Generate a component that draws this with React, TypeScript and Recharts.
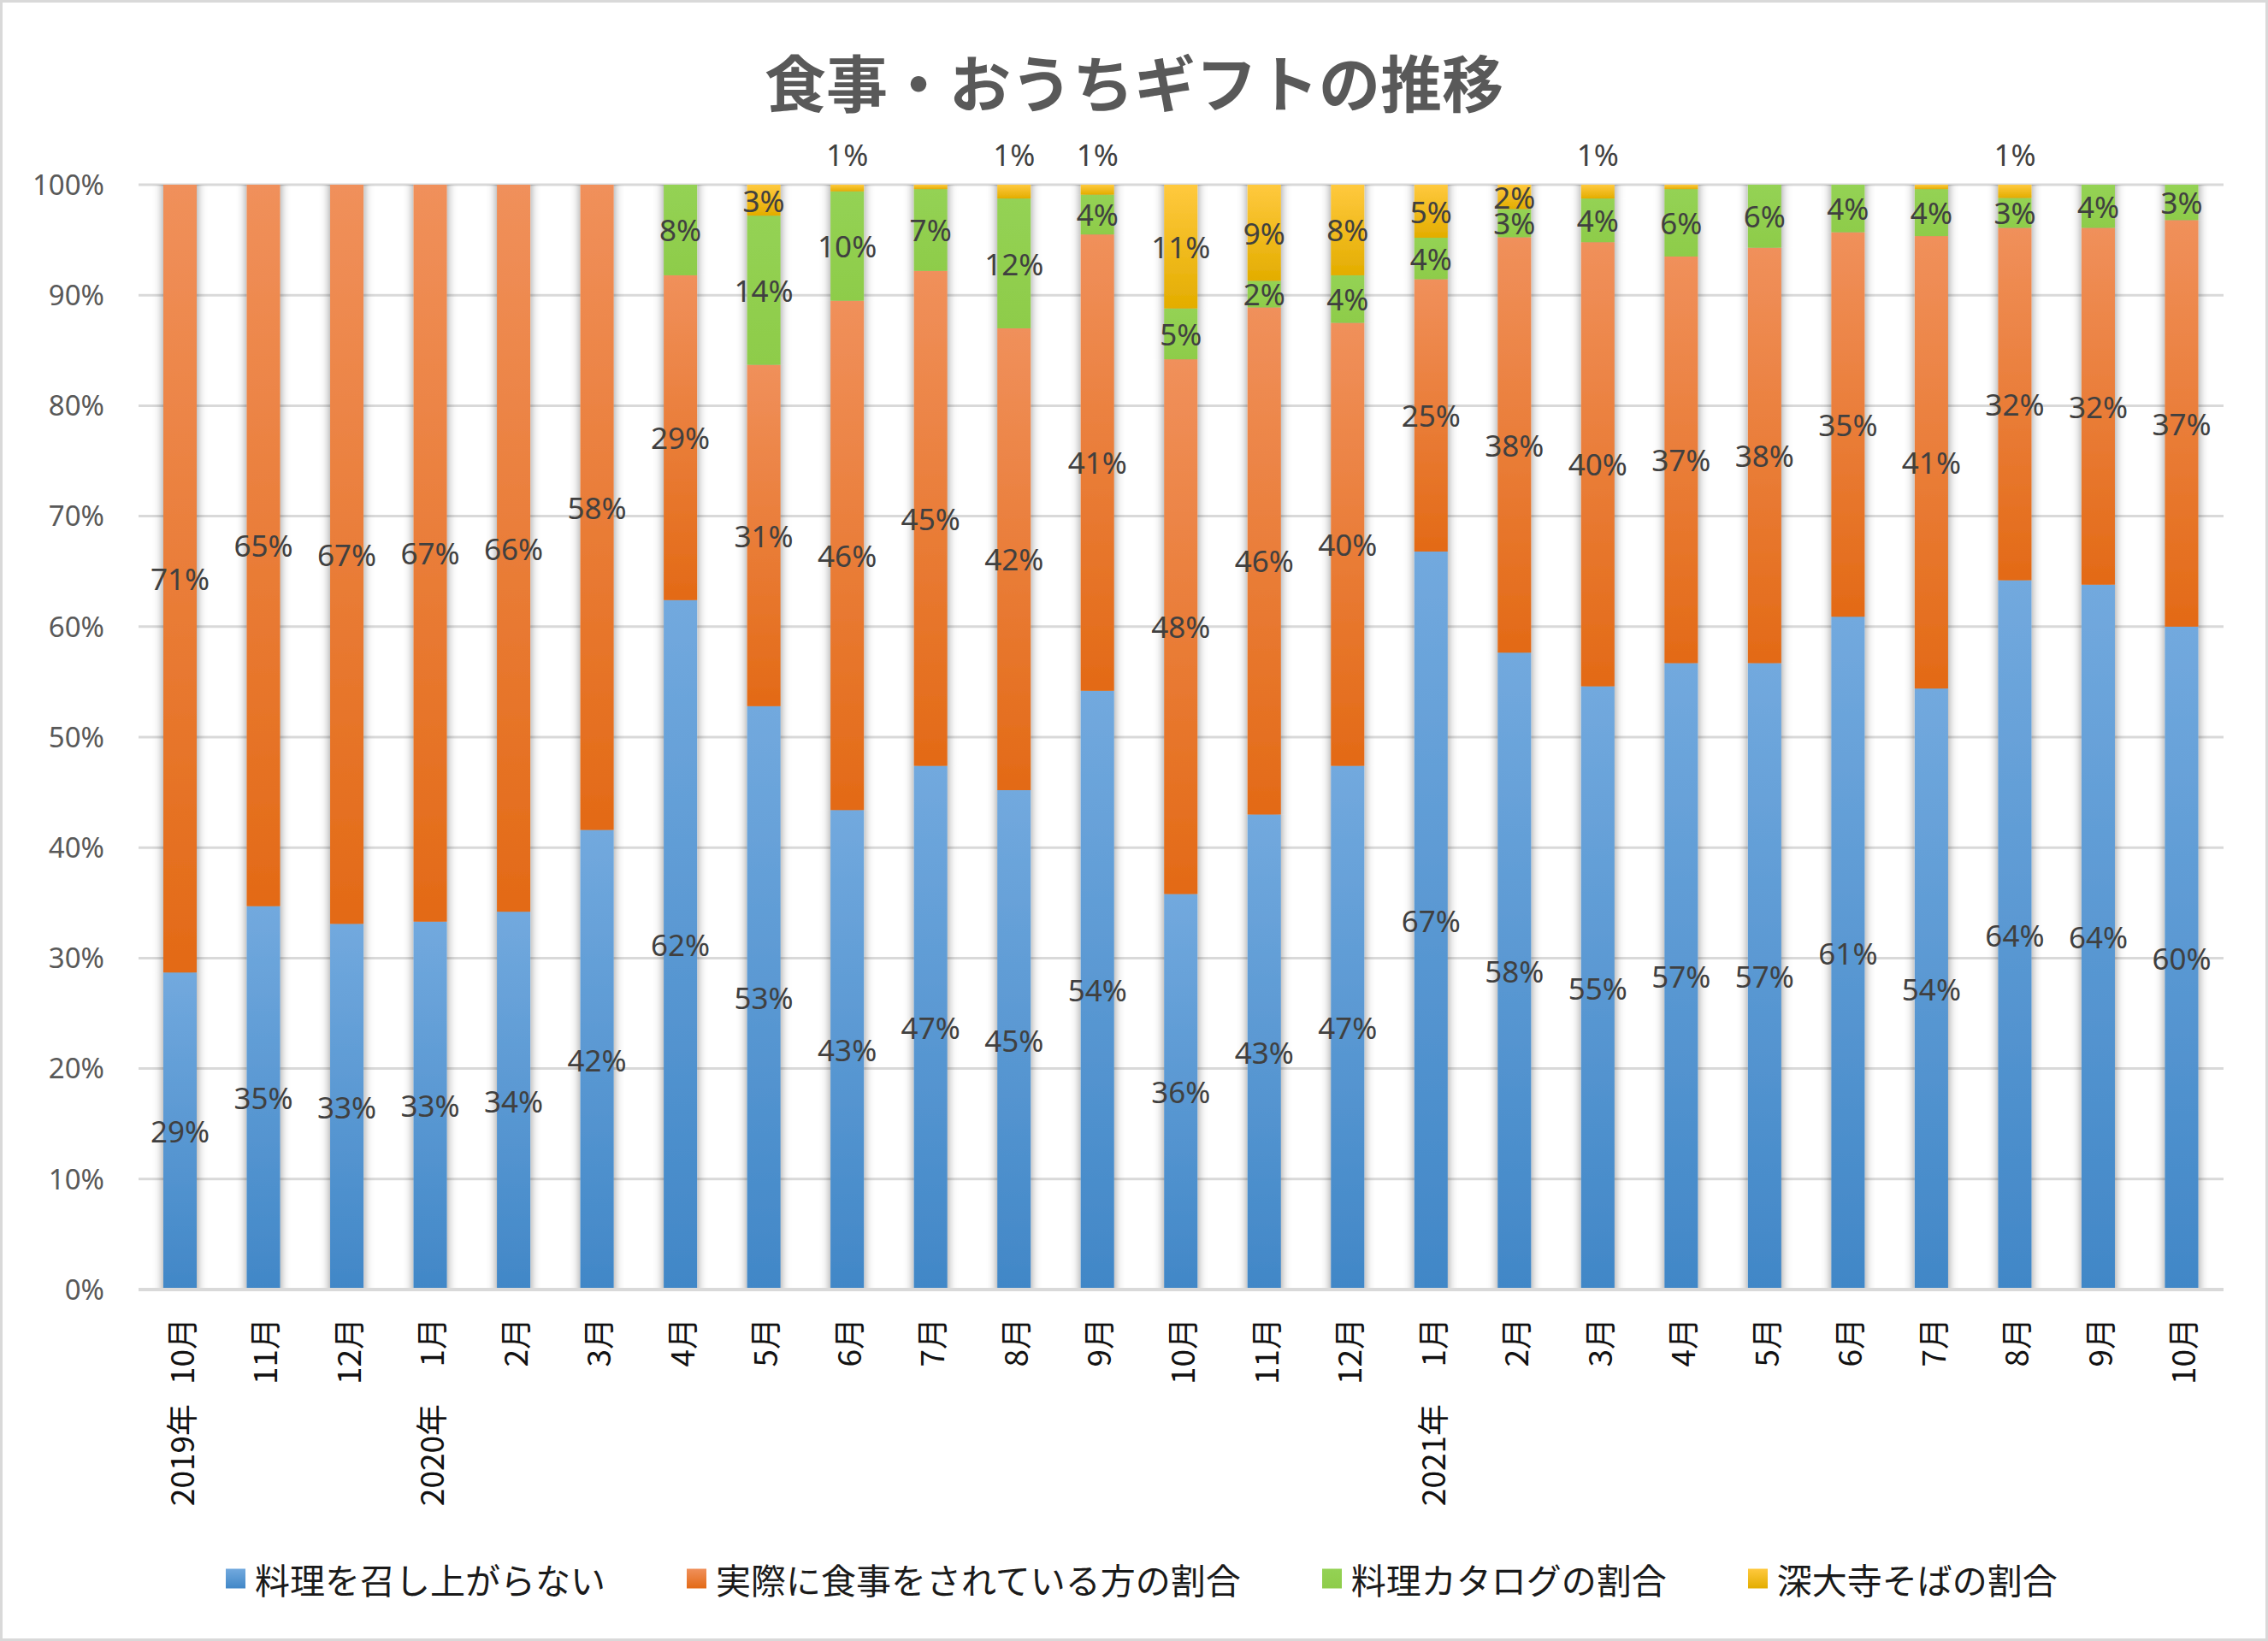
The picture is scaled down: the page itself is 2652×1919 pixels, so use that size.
import React from 'react';
import { BarChart, Bar, XAxis, YAxis, CartesianGrid, LabelList } from 'recharts';

const months = [
  '10月', '11月', '12月', '1月', '2月', '3月', '4月', '5月', '6月', '7月', '8月', '9月', '10月',
  '11月', '12月', '1月', '2月', '3月', '4月', '5月', '6月', '7月', '8月', '9月', '10月',
];
const yearLabels = [
  '2019年', '', '', '2020年', '', '', '', '', '', '', '', '', '',
  '', '', '2021年', '', '', '', '', '', '', '', '', '',
];

// share of each group per month (%)
const noMealShare = [
  28.7, 34.7, 33.1, 33.3, 34.2, 41.6, 62.4, 52.8, 43.4, 47.4, 45.2, 54.2, 35.8,
  43.0, 47.4, 66.8, 57.65, 54.6, 56.7, 56.7, 60.9, 54.4, 64.2, 63.8, 60.0,
];
const mealShare = [
  71.3, 65.3, 66.9, 66.7, 65.8, 58.4, 29.4, 30.9, 46.1, 44.8, 41.8, 41.3, 48.4,
  45.9, 40.1, 24.65, 37.6, 40.2, 36.8, 37.6, 34.8, 40.95, 31.9, 32.3, 36.8,
];
const catalogShare = [
  0, 0, 0, 0, 0, 0, 8.2, 13.5, 9.9, 7.4, 11.75, 3.6, 4.6,
  2.4, 4.3, 3.75, 2.55, 3.95, 6.1, 5.7, 4.3, 4.25, 2.7, 3.9, 3.2,
];
const sobaShare = [
  0, 0, 0, 0, 0, 0, 0, 2.8, 0.6, 0.4, 1.25, 0.9, 11.2,
  8.7, 8.2, 4.8, 2.2, 1.25, 0.4, 0, 0, 0.4, 1.2, 0, 0,
];

const yTicks = [0, 10, 20, 30, 40, 50, 60, 70, 80, 90, 100];

const series = [
  { key: 'noMeal', name: '料理を召し上がらない', grad: 'gBlue', top: '#72a9de', bottom: '#4187c7' },
  { key: 'meal', name: '実際に食事をされている方の割合', grad: 'gOrange', top: '#f0905b', bottom: '#e36a16' },
  { key: 'catalog', name: '料理カタログの割合', grad: 'gGreen', top: '#94d254', bottom: '#8ecc4a' },
  { key: 'soba', name: '深大寺そばの割合', grad: 'gYellow', top: '#ffc93e', bottom: '#e3ad00' },
];

const data = months.map((m, i) => ({
  month: m,
  noMeal: noMealShare[i],
  meal: mealShare[i],
  catalog: catalogShare[i],
  soba: sobaShare[i],
}));

const JP_FONT = "'Noto Sans CJK JP', 'Noto Sans', sans-serif";
const NUM_FONT = "'Noto Sans', 'Noto Sans CJK JP', sans-serif";

const ShadowRect = (props: any) => {
  const { x, y, width, height, fill } = props;
  if (!height || height <= 0) return null;
  return <rect x={x} y={y} width={width} height={height} fill={fill} filter="url(#barShadow)" />;
};

// tiny top segments (1%) get their label lifted above the plot, like the original
const makeLabel = (liftSmall: boolean) => (props: any) => {
  const x = Number(props.x);
  const y = Number(props.y);
  const width = Number(props.width);
  const height = Number(props.height);
  const n = Math.round(Number(props.value));
  if (!n) return null;
  let cy = y + height / 2;
  if (liftSmall && n <= 1) cy = y - 36;
  return (
    <text
      x={x + width / 2}
      y={cy}
      textAnchor="middle"
      dominantBaseline="central"
      fontSize={35}
      fontFamily={NUM_FONT}
      fill="#404040"
    >
      {n}%
    </text>
  );
};

const MonthTick = (props: any) => {
  const { x, y, payload } = props;
  const i = payload.index ?? props.index;
  const year = yearLabels[i];
  const my = y + 33;
  const yy = y + 134;
  return (
    <g>
      <text
        x={x}
        y={my}
        transform={`rotate(-90, ${x}, ${my})`}
        textAnchor="end"
        dominantBaseline="central"
        fontSize={37}
        fontFamily={JP_FONT}
        fill="#111"
      >
        {payload.value}
      </text>
      {year ? (
        <text
          x={x}
          y={yy}
          transform={`rotate(-90, ${x}, ${yy})`}
          textAnchor="end"
          dominantBaseline="central"
          fontSize={37}
          fontFamily={JP_FONT}
          fill="#111"
        >
          {year}
        </text>
      ) : null}
    </g>
  );
};

export default function App() {
  return (
    <div style={{ position: 'absolute', left: 0, top: 0, width: 2652, height: 1919, background: '#fff', overflow: 'hidden' }}>
      <div
        style={{
          position: 'absolute',
          left: 0,
          top: 58,
          width: 2652,
          textAlign: 'center',
          fontSize: 72,
          lineHeight: '72px',
          fontWeight: 700,
          color: '#595959',
          fontFamily: JP_FONT,
        }}
      >
        食事・おうちギフトの推移
      </div>

      <div style={{ position: 'absolute', left: 0, top: 0 }}>
        <BarChart
          width={2652}
          height={1919}
          data={data}
          margin={{ top: 216, right: 52, left: 40, bottom: 11 }}
        >
          <defs>
            {series.map((s) => (
              <linearGradient key={s.grad} id={s.grad} x1="0" y1="0" x2="0" y2="1">
                <stop offset="0%" stopColor={s.top} />
                <stop offset="100%" stopColor={s.bottom} />
              </linearGradient>
            ))}
            <filter id="barShadow" x="-70%" y="0%" width="240%" height="100%">
              <feDropShadow dx="0" dy="0" stdDeviation="6 0" floodColor="#000" floodOpacity="0.45" />
            </filter>
          </defs>
          <CartesianGrid vertical={false} stroke="#d9d9d9" strokeWidth={3} />
          <XAxis
            dataKey="month"
            height={400}
            interval={0}
            tickLine={false}
            tickSize={0}
            tickMargin={0}
            axisLine={{ stroke: '#d9d9d9', strokeWidth: 4 }}
            tick={<MonthTick />}
          />
          <YAxis
            width={122}
            domain={[0, 100]}
            ticks={yTicks}
            allowDataOverflow
            axisLine={false}
            tickLine={false}
            tickSize={0}
            tickMargin={40}
            tickFormatter={(v) => `${v}%`}
            tick={{ fontSize: 33, fill: '#595959', fontFamily: NUM_FONT }}
          />
          {series.map((s) => (
            <Bar
              key={s.key}
              dataKey={s.key}
              name={s.name}
              stackId="share"
              fill={`url(#${s.grad})`}
              barSize={39}
              shape={ShadowRect}
              isAnimationActive={false}
            >
              <LabelList dataKey={s.key} content={makeLabel(s.key === 'soba')} />
            </Bar>
          ))}
        </BarChart>
      </div>

      <div
        style={{
          position: 'absolute',
          left: 264,
          top: 1846,
          transform: 'translateY(-50%)',
          display: 'flex',
          alignItems: 'center',
          gap: 95,
          whiteSpace: 'nowrap',
        }}
      >
        {series.map((s) => (
          <div key={s.key} style={{ display: 'flex', alignItems: 'center' }}>
            <span
              style={{
                display: 'inline-block',
                width: 23,
                height: 23,
                marginRight: 11,
                background: `linear-gradient(${s.top}, ${s.bottom})`,
              }}
            />
            <span style={{ fontSize: 41, lineHeight: '41px', fontFamily: JP_FONT, color: '#1a1a1a' }}>{s.name}</span>
          </div>
        ))}
      </div>

      <div
        style={{
          position: 'absolute',
          left: 0,
          top: 0,
          width: 2652,
          height: 1919,
          boxSizing: 'border-box',
          border: '3px solid #d9d9d9',
          pointerEvents: 'none',
        }}
      />
    </div>
  );
}
